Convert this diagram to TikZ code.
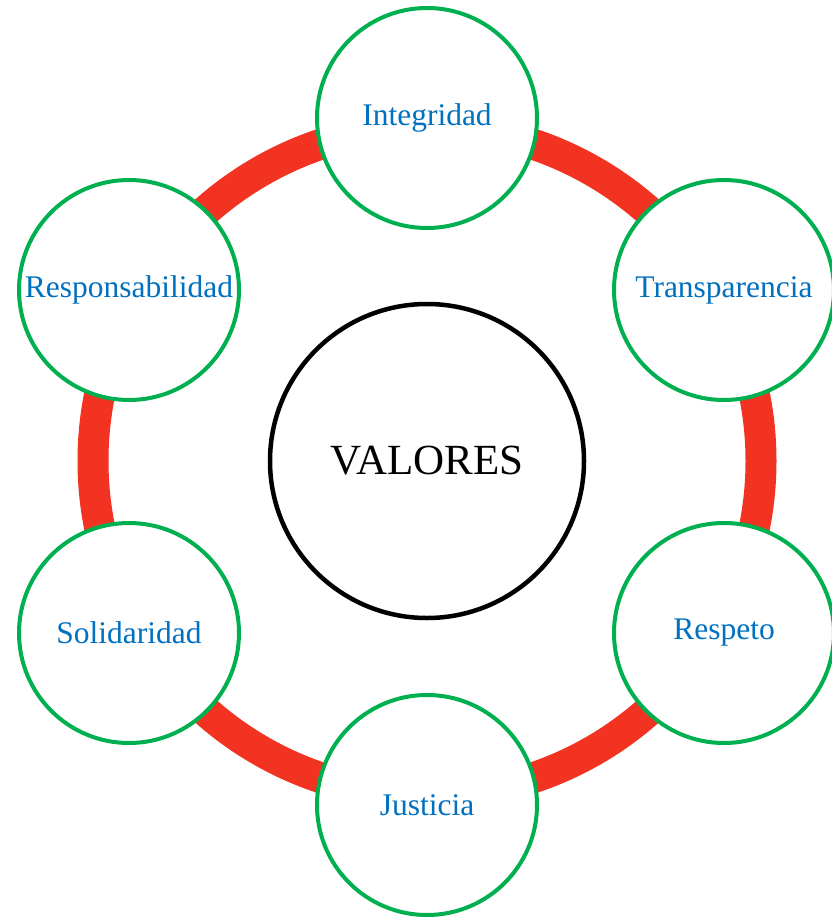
\documentclass[tikz,border=0pt]{standalone}
\usepackage{fontspec}
\setmainfont{Liberation Serif}
\definecolor{ringred}{HTML}{F33322}
\definecolor{satgreen}{HTML}{00B050}
\definecolor{txtblue}{HTML}{0070C0}
\begin{document}
\begin{tikzpicture}[x=1pt,y=-1pt,
  sat/.style={circle,draw=satgreen,line width=4pt,fill=white,minimum size=220pt,inner sep=0pt,
    text=txtblue,font=\fontsize{31.5}{34}\selectfont},
  hub/.style={circle,draw=black,line width=4.5pt,fill=white,minimum size=314pt,inner sep=0pt,
    font=\fontsize{43}{46}\selectfont},
  ring/.style={draw=ringred,line width=31pt}]
\useasboundingbox (0,0) rectangle (831,918);
\coordinate (c) at (427,461);
\draw[ring] (c) circle (334pt);
\node[hub] (valores) at (c) {VALORES};
\node[sat] (integ) at (427,118) {Integridad};
\node[sat] (transp) at (724,290) {Transparencia};
\node[sat] (resp) at (129,290) {Responsabilidad};
\node[sat] (solid) at (129,633) {Solidaridad};
\node[sat] (respeto) at (724,633) {Respeto};
\node[sat] (just) at (427,805) {Justicia};
\end{tikzpicture}
\end{document}
